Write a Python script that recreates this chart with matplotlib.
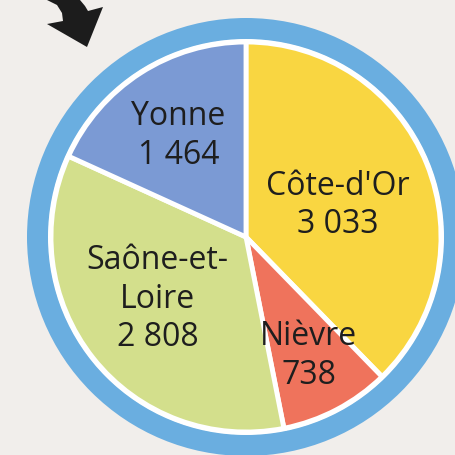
import numpy as np
import matplotlib
matplotlib.use('Agg')
import matplotlib.pyplot as plt
from matplotlib.patches import Circle, Polygon

plt.rcParams['font.family'] = ['Open Sans', 'DejaVu Sans']

# data
departments = ['Côte-d\'Or', 'Nièvre', 'Saône-et-\nLoire', 'Yonne']
counts = [3033, 738, 2808, 1464]
colors = ['#f9d641', '#ef735c', '#d3df8c', '#7b9ad4']

BG = '#f1eeeb'
RING = '#6aaee0'

W, H = 456, 455
fig = plt.figure(figsize=(W / 100, H / 100), dpi=100, facecolor=BG)
ax = fig.add_axes([0, 0, 1, 1])
ax.set_xlim(0, W)
ax.set_ylim(0, H)
ax.set_aspect('equal')
ax.axis('off')

cx, cy = 246, H - 237
R = 195

ax.add_patch(Circle((cx, cy), 219, facecolor=RING, edgecolor='none', zorder=0))
ax.add_patch(Circle((cx, cy), R + 3, facecolor='white', edgecolor='none', zorder=1))

wedges, _ = ax.pie(counts, colors=colors, startangle=90, counterclock=False,
                   center=(cx, cy), radius=R, frame=True,
                   wedgeprops=dict(edgecolor='white', linewidth=3.5))
for w in wedges:
    w.set_zorder(2)
ax.set_xlim(0, W)
ax.set_ylim(0, H)
ax.axis('off')

def fmt(v):
    return '{:,}'.format(v).replace(',', ' ')

rfac = [0.51, 0.69, 0.58, 0.64]
nudge = [-6, 0, 8, -4]
for w, name, v, rf, dy in zip(wedges, departments, counts, rfac, nudge):
    mid = np.deg2rad((w.theta1 + w.theta2) / 2)
    x = cx + rf * R * np.cos(mid)
    y = cy + rf * R * np.sin(mid) + dy
    ax.text(x, y, name + '\n' + fmt(v), ha='center', va='center',
            fontsize=23, color='#1e1e1e', linespacing=1.22, zorder=3)

# curved arrow in the top-left corner
arrow = [(47, 0), (80, 0), (85, 6), (88, 11), (103, 7), (87, 47),
         (47, 24), (63, 21), (62, 13), (57, 5)]
ax.add_patch(Polygon([(x, H - y) for x, y in arrow], closed=True,
                     facecolor='#1c1c1c', edgecolor='none', zorder=4))

fig.savefig('out.png', dpi=100, facecolor=BG)
